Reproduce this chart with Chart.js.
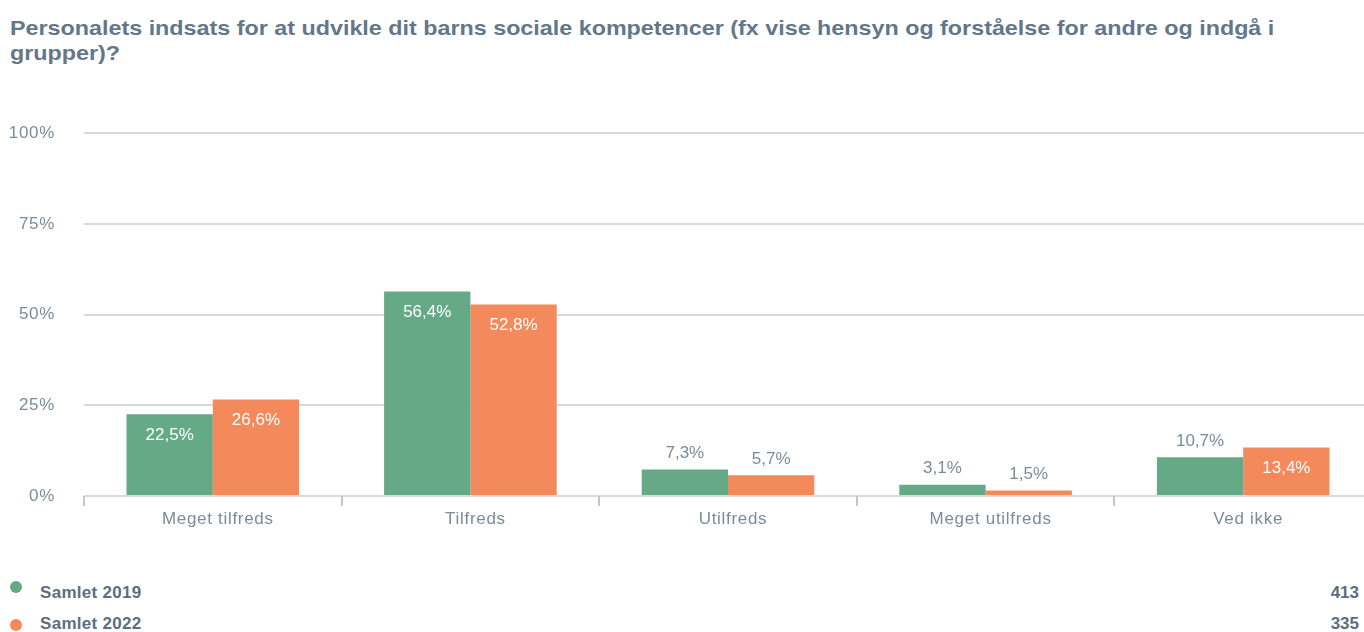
<!doctype html>
<html>
<head>
<meta charset="utf-8">
<title>Personalets indsats</title>
<script src="https://cdn.jsdelivr.net/npm/chart.js@4.4.1/dist/chart.umd.min.js"></script>
<style>
  * { box-sizing: border-box; }
  body { margin: 0; width: 1364px; height: 632px; background: #ffffff; position: relative; overflow: hidden; font-family: "Liberation Sans", Arial, sans-serif; }
  .title { position: absolute; left: 10px; top: 15px; font-size: 21px; font-weight: 700; line-height: 25px; color: #637789; white-space: nowrap; transform: scaleX(1.11); transform-origin: left top; }
  .chart-wrap { position: absolute; left: 0; top: 94px; width: 1372px; height: 466px; }
  .legend-row { position: absolute; left: 0; width: 1364px; height: 20px; font-size: 17px; font-weight: 700; color: #5d6e7e; }
  .legend-dot { position: absolute; left: 10px; width: 12px; height: 12px; border-radius: 50%; }
  .legend-name { position: absolute; left: 40px; line-height: 20px; letter-spacing: 0.3px; }
  .legend-count { position: absolute; right: 5px; line-height: 20px; }
</style>
</head>
<body>
  <div class="title">Personalets indsats for at udvikle dit barns sociale kompetencer (fx vise hensyn og forståelse for andre og indgå i<br>grupper)?</div>
  <div class="chart-wrap"><canvas id="chart" width="1372" height="466"></canvas></div>
  <div id="legend"></div>

  <script>
    const categories = ['Meget tilfreds', 'Tilfreds', 'Utilfreds', 'Meget utilfreds', 'Ved ikke'];
    const seriesNames = ['Samlet 2019', 'Samlet 2022'];
    const seriesCounts = [413, 335];
    const values2019 = [22.5, 56.4, 7.3, 3.1, 10.7];
    const values2022 = [26.6, 52.8, 5.7, 1.5, 13.4];
    const yTicks = [0, 25, 50, 75, 100];

    const GREEN = '#65a987';
    const ORANGE = '#f48a5c';
    const seriesColors = [GREEN, ORANGE];
    const TEXT = '#7a8c9b';
    const FONT = '"Liberation Sans", Arial, sans-serif';

    // the source renders its axis text a little wider than plain Arial
    const wideText = {
      id: 'wideText',
      beforeLayout(chart) { chart.ctx.letterSpacing = '0.7px'; },
      beforeDraw(chart) { chart.ctx.letterSpacing = '0.7px'; }
    };

    // values shown inside the bar (white) when the bar is tall enough
    const barLabels = {
      id: 'barLabels',
      afterDatasetsDraw(chart) {
        const ctx = chart.ctx;
        ctx.save();
        ctx.letterSpacing = '0px';
        ctx.font = '17px ' + FONT;
        ctx.textAlign = 'center';
        ctx.textBaseline = 'middle';
        chart.data.datasets.forEach((ds, i) => {
          chart.getDatasetMeta(i).data.forEach((bar, j) => {
            const v = ds.data[j];
            const text = v.toFixed(1).replace('.', ',') + '%';
            if (v >= 12) {
              ctx.fillStyle = '#ffffff';
              ctx.fillText(text, bar.x, bar.y + 21);
            } else {
              ctx.fillStyle = TEXT;
              ctx.fillText(text, bar.x, bar.y - 16);
            }
          });
        });
        ctx.restore();
      }
    };

    new Chart(document.getElementById('chart'), {
      type: 'bar',
      data: {
        labels: categories,
        datasets: [
          { label: seriesNames[0], data: values2019, backgroundColor: GREEN, borderWidth: 0, categoryPercentage: 0.67, barPercentage: 1 },
          { label: seriesNames[1], data: values2022, backgroundColor: ORANGE, borderWidth: 0, categoryPercentage: 0.67, barPercentage: 1 }
        ]
      },
      options: {
        responsive: false,
        animation: false,
        layout: { padding: { top: 0, right: 0, left: 0, bottom: 0 } },
        plugins: { legend: { display: false }, tooltip: { enabled: false } },
        scales: {
          y: {
            min: 0,
            max: 100,
            afterFit(scale) { scale.width = 84; },
            afterBuildTicks(scale) { scale.ticks = yTicks.map(v => ({ value: v })); },
            border: { display: false },
            grid: { color: '#d9d9d9', lineWidth: 2, drawTicks: false },
            ticks: {
              padding: 29,
              color: TEXT,
              font: { family: FONT, size: 17 },
              callback: v => v + '%'
            }
          },
          x: {
            afterFit(scale) { scale.height = 64; },
            border: { display: false },
            grid: { drawOnChartArea: false, drawTicks: true, tickLength: 10, color: '#b9c9d8', lineWidth: 2 },
            ticks: {
              padding: 3,
              labelOffset: 5,
              color: TEXT,
              font: { family: FONT, size: 17 }
            }
          }
        }
      },
      plugins: [wideText, barLabels]
    });

    // legend below the chart, with counts at the right
    const legend = document.getElementById('legend');
    const rowTops = [583, 614];
    const dotTops = [581, 619];
    seriesNames.forEach((name, i) => {
      const row = document.createElement('div');
      row.className = 'legend-row';
      row.style.top = rowTops[i] + 'px';
      row.innerHTML = `<span class="legend-name">${name}</span><span class="legend-count">${seriesCounts[i]}</span>`;
      legend.appendChild(row);
      const dot = document.createElement('div');
      dot.className = 'legend-dot';
      dot.style.top = dotTops[i] + 'px';
      dot.style.background = seriesColors[i];
      legend.appendChild(dot);
    });
  </script>
</body>
</html>
